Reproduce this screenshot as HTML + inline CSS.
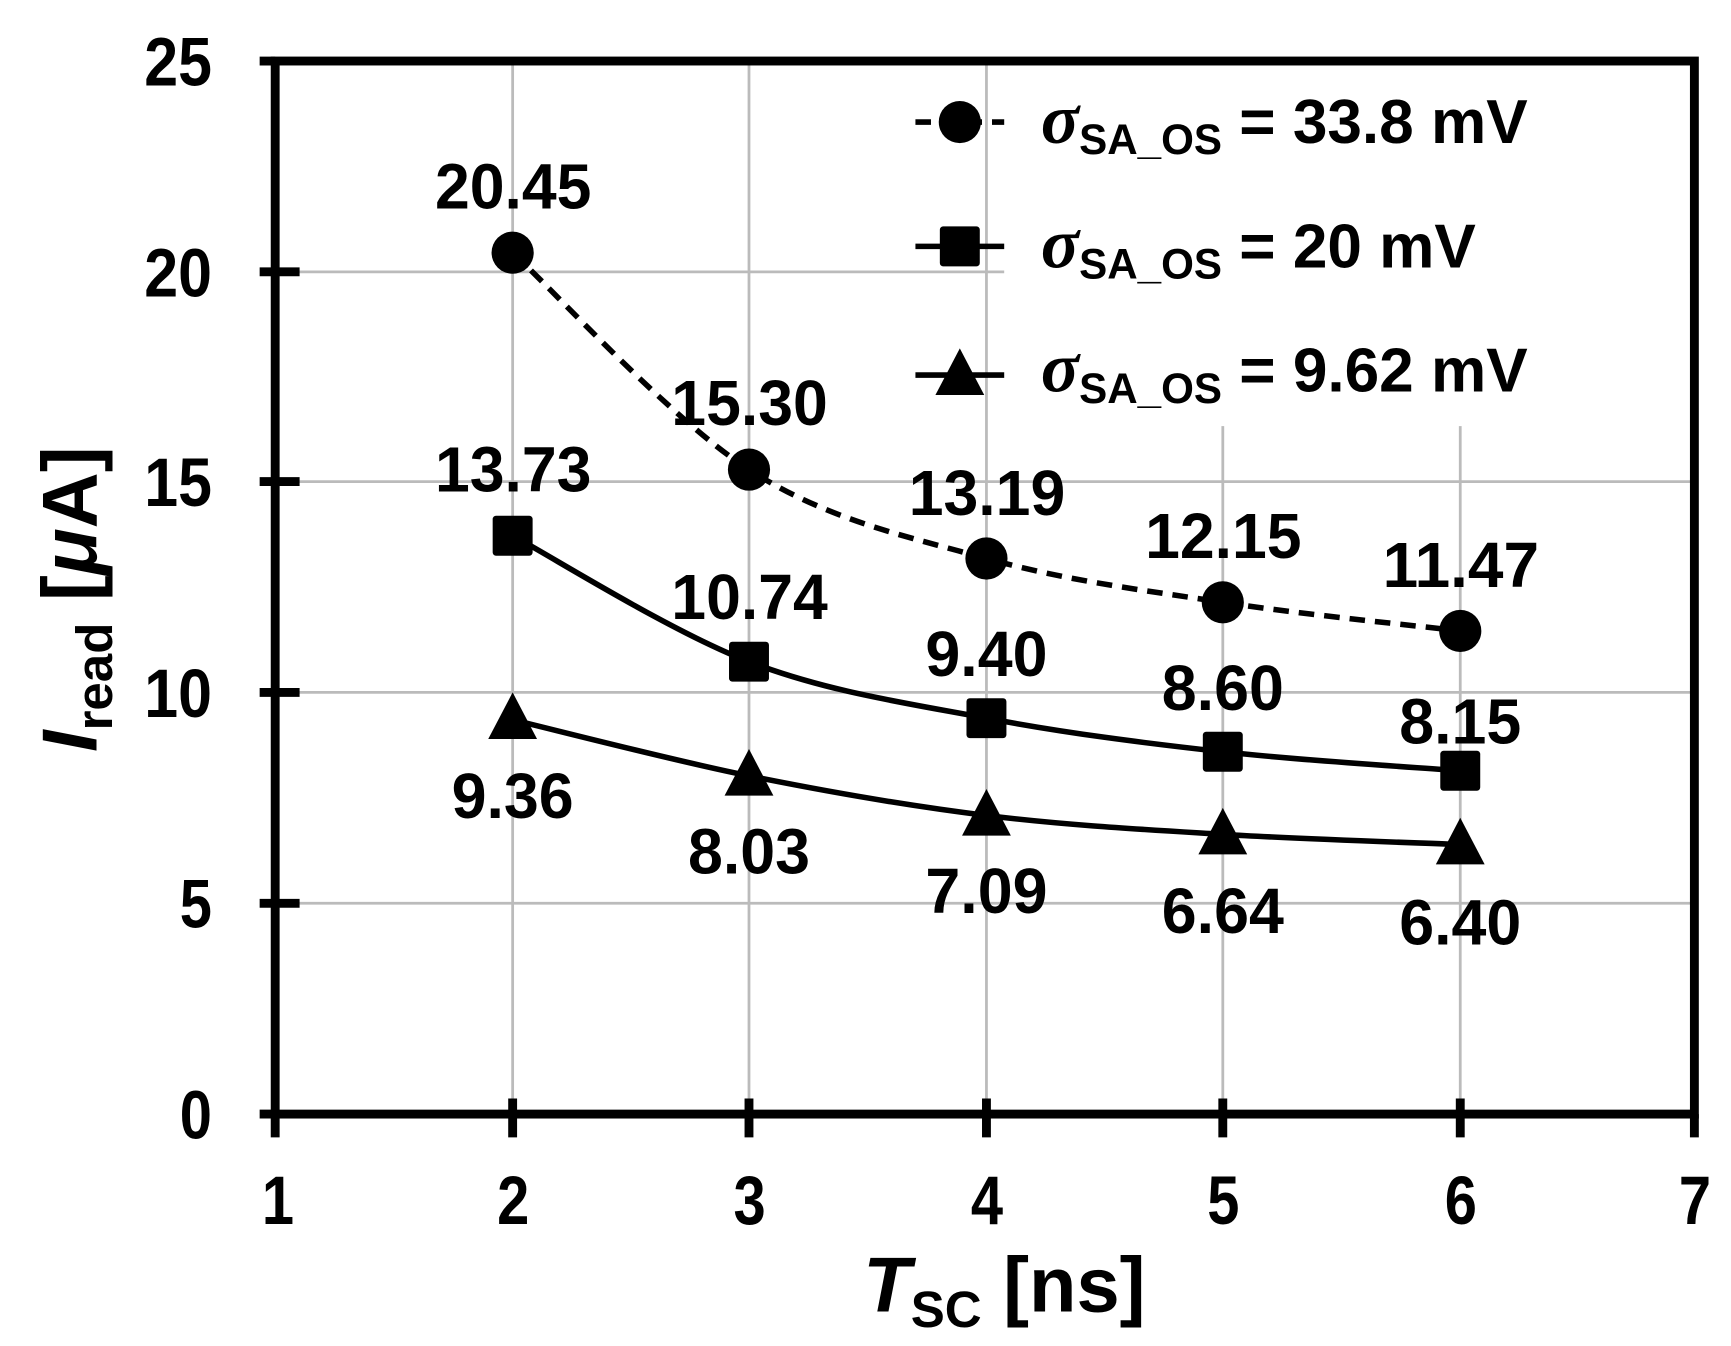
<!DOCTYPE html>
<html><head><meta charset="utf-8"><style>html,body{margin:0;padding:0;background:#fff}svg{display:block}</style></head>
<body>
<svg width="1731" height="1346" viewBox="0 0 1560 1213" preserveAspectRatio="none" xmlns="http://www.w3.org/2000/svg" font-family="Liberation Sans, Arial, sans-serif" font-weight="bold">
<rect width="1560" height="1213" fill="#fff"/>
<g stroke="#bbb" stroke-width="2.5">
<line x1="462" y1="55" x2="462" y2="1004"/><line x1="675" y1="55" x2="675" y2="1004"/>
<line x1="889" y1="55" x2="889" y2="1004"/><line x1="1102" y1="55" x2="1102" y2="1004"/>
<line x1="1316" y1="55" x2="1316" y2="1004"/>
<line x1="248" y1="814" x2="1527" y2="814"/><line x1="248" y1="624" x2="1527" y2="624"/>
<line x1="248" y1="434" x2="1527" y2="434"/><line x1="248" y1="245" x2="1527" y2="245"/>
</g>
<rect x="905" y="58" width="618" height="326" fill="#fff"/>
<g stroke="#000" stroke-width="8" fill="none">
<rect x="248" y="55" width="1279" height="949"/>
<path d="M462 990V1025M675 990V1025M889 990V1025M1102 990V1025M1316 990V1025M1527 1004V1025M248 1004V1025"/>
<path d="M234 814H270M234 624H270M234 434H270M234 245H270M234 55H248M234 1004H248"/>
</g>
<g font-size="62">
<text x="162" y="1026" textLength="29" lengthAdjust="spacingAndGlyphs">0</text>
<text x="162" y="836" textLength="29" lengthAdjust="spacingAndGlyphs">5</text>
<text x="130" y="646" textLength="61" lengthAdjust="spacingAndGlyphs">10</text>
<text x="130" y="456" textLength="61" lengthAdjust="spacingAndGlyphs">15</text>
<text x="130" y="267" textLength="61" lengthAdjust="spacingAndGlyphs">20</text>
<text x="130" y="77" textLength="61" lengthAdjust="spacingAndGlyphs">25</text>
</g>
<g font-size="62">
<text x="236" y="1103" textLength="29" lengthAdjust="spacingAndGlyphs">1</text>
<text x="448" y="1103" textLength="29" lengthAdjust="spacingAndGlyphs">2</text>
<text x="661" y="1103" textLength="29" lengthAdjust="spacingAndGlyphs">3</text>
<text x="875" y="1103" textLength="29" lengthAdjust="spacingAndGlyphs">4</text>
<text x="1088" y="1103" textLength="29" lengthAdjust="spacingAndGlyphs">5</text>
<text x="1302" y="1103" textLength="29" lengthAdjust="spacingAndGlyphs">6</text>
<text x="1513" y="1103" textLength="29" lengthAdjust="spacingAndGlyphs">7</text>
</g>
<text x="778" y="1182" font-size="70"><tspan font-style="italic">T</tspan><tspan font-size="46" dy="14">SC</tspan><tspan dy="-14"> [ns]</tspan></text>
<text transform="translate(87,540) rotate(-90)" text-anchor="middle" font-size="70"><tspan font-style="italic">I</tspan><tspan font-size="46" dy="14">read</tspan><tspan dy="-14"> [</tspan><tspan font-style="italic">μ</tspan><tspan>A]</tspan></text>
<g fill="none" stroke="#000" stroke-width="5">
<path stroke-dasharray="14,9" d="M462 227.7C497.5 260.3 603.8 377.3 675 423.2C746.2 469.1 817.8 483.4 889 503.3C960.2 523.2 1030.8 531.9 1102 542.8C1173.2 553.7 1280.3 564.3 1316 568.6"/>
<path d="M462 482.8C497.5 501.7 603.8 568.9 675 596.3C746.2 623.7 817.8 633.7 889 647.2C960.2 660.7 1030.8 669.6 1102 677.5C1173.2 685.4 1280.3 691.8 1316 694.6"/>
<path d="M462 648.7C497.5 657.1 603.8 684.8 675 699.2C746.2 713.6 817.8 726.1 889 734.9C960.2 743.7 1030.8 747.5 1102 751.9C1173.2 756.3 1280.3 759.6 1316 761.1"/>
<path stroke-dasharray="14,9" d="M825 110H905"/><path d="M825 222H905M825 338H905"/>
</g>
<g fill="#000">
<circle cx="462" cy="227.7" r="19"/><circle cx="675" cy="423.2" r="19"/><circle cx="889" cy="503.3" r="19"/><circle cx="1102" cy="542.8" r="19"/><circle cx="1316" cy="568.6" r="19"/>
<rect x="444" y="464.8" width="36" height="36" rx="3"/><rect x="657" y="578.3" width="36" height="36" rx="3"/><rect x="871" y="629.2" width="36" height="36" rx="3"/><rect x="1084" y="659.5" width="36" height="36" rx="3"/><rect x="1298" y="676.6" width="36" height="36" rx="3"/>
<path d="M462 624L484 666H440Z"/><path d="M675 675L697 717H653Z"/><path d="M889 711L911 753H867Z"/><path d="M1102 728L1124 770H1080Z"/><path d="M1316 737L1338 779H1294Z"/>
<circle cx="865" cy="110" r="19"/><rect x="847" y="204" width="36" height="36" rx="3"/><path d="M865 314L887 356H843Z"/>
</g>
<g font-size="58">
<text x="392" y="188" textLength="141" lengthAdjust="spacingAndGlyphs">20.45</text>
<text x="605" y="383" textLength="141" lengthAdjust="spacingAndGlyphs">15.30</text>
<text x="819" y="464" textLength="141" lengthAdjust="spacingAndGlyphs">13.19</text>
<text x="1032" y="503" textLength="141" lengthAdjust="spacingAndGlyphs">12.15</text>
<text x="1246" y="529" textLength="141" lengthAdjust="spacingAndGlyphs">11.47</text>
<text x="392" y="443" textLength="141" lengthAdjust="spacingAndGlyphs">13.73</text>
<text x="605" y="558" textLength="141" lengthAdjust="spacingAndGlyphs">10.74</text>
<text x="834" y="609" textLength="110" lengthAdjust="spacingAndGlyphs">9.40</text>
<text x="1047" y="640" textLength="110" lengthAdjust="spacingAndGlyphs">8.60</text>
<text x="1261" y="670" textLength="110" lengthAdjust="spacingAndGlyphs">8.15</text>
<text x="407" y="737" textLength="110" lengthAdjust="spacingAndGlyphs">9.36</text>
<text x="620" y="787" textLength="110" lengthAdjust="spacingAndGlyphs">8.03</text>
<text x="834" y="823" textLength="110" lengthAdjust="spacingAndGlyphs">7.09</text>
<text x="1047" y="841" textLength="110" lengthAdjust="spacingAndGlyphs">6.64</text>
<text x="1261" y="851" textLength="110" lengthAdjust="spacingAndGlyphs">6.40</text>
</g>
<g font-size="56">
<text x="938" y="129"><tspan font-family="Liberation Serif, serif" font-style="italic" font-size="64">σ</tspan><tspan font-size="38" dy="10">SA_OS</tspan><tspan dy="-10"> = 33.8 mV</tspan></text>
<text x="938" y="241"><tspan font-family="Liberation Serif, serif" font-style="italic" font-size="64">σ</tspan><tspan font-size="38" dy="10">SA_OS</tspan><tspan dy="-10"> = 20 mV</tspan></text>
<text x="938" y="353"><tspan font-family="Liberation Serif, serif" font-style="italic" font-size="64">σ</tspan><tspan font-size="38" dy="10">SA_OS</tspan><tspan dy="-10"> = 9.62 mV</tspan></text>
</g>
</svg>
</body></html>
